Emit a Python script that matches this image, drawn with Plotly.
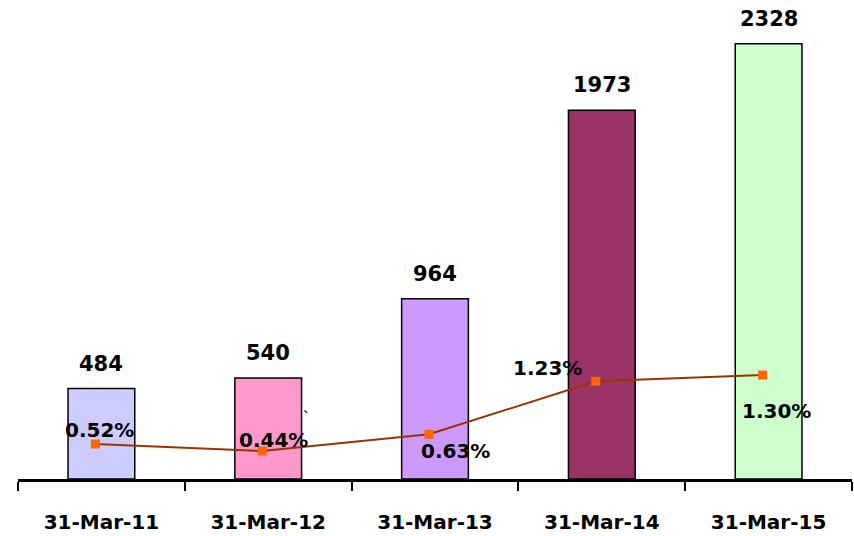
import plotly.graph_objects as go

categories = ["31-Mar-11", "31-Mar-12", "31-Mar-13", "31-Mar-14", "31-Mar-15"]
amounts = [484, 540, 964, 1973, 2328]
ratios = [0.52, 0.44, 0.63, 1.23, 1.30]
ratio_labels = ["0.52%", "0.44%", "0.63%", "1.23%", "1.30%"]
bar_colors = ["#CCCCFF", "#FF99CC", "#CC99FF", "#993366", "#CCFFCC"]

# label offsets (pixels) for the percentage labels
pct_dx = [4, 11, 26, -48, 14]
pct_dy = [14, 11, -17, 13, -36]

FONT = "DejaVu Sans"

fig = go.Figure()
fig.add_trace(go.Bar(
    x=categories, y=amounts, width=0.4,
    marker=dict(color=bar_colors, line=dict(color="black", width=1.5)),
    xaxis="x", yaxis="y", showlegend=False, hoverinfo="skip",
))
fig.add_trace(go.Scatter(
    x=categories, y=ratios, mode="lines+markers",
    line=dict(color="#993300", width=2),
    marker=dict(symbol="square", size=9, color="#FF6600"),
    xaxis="x2", yaxis="y2", showlegend=False, hoverinfo="skip",
))

annotations = []
for c, v in zip(categories, amounts):
    annotations.append(dict(
        x=c, y=v, xref="x", yref="y", text=f"<b>{v}</b>", showarrow=False,
        yanchor="middle", yshift=25,
        font=dict(family=FONT, size=21, color="black"),
    ))
for c, v, t, dx, dy in zip(categories, ratios, ratio_labels, pct_dx, pct_dy):
    annotations.append(dict(
        x=c, y=v, xref="x2", yref="y2", text=f"<b>{t}</b>", showarrow=False,
        xshift=dx, yshift=dy, yanchor="middle",
        font=dict(family=FONT, size=20, color="black"),
    ))
# stray backtick mark seen in the original
annotations.append(dict(
    x=categories[1], y=ratios[1], xref="x2", yref="y2", text="<b>`</b>",
    showarrow=False, xshift=44, yshift=34,
    font=dict(family=FONT, size=14, color="black"),
))

shift = 0.036
fig.update_layout(
    width=854, height=536,
    margin=dict(l=18, r=2, t=10, b=57),
    paper_bgcolor="white", plot_bgcolor="white",
    xaxis=dict(
        type="category", range=[-0.5, 4.5],
        showline=True, linecolor="black", linewidth=2.5,
        ticks="outside", tickson="boundaries", ticklen=9, tickwidth=1.5,
        tickcolor="black", showgrid=False, zeroline=False,
        tickfont=dict(family=FONT, size=20, color="black"),
        ticklabelstandoff=23,
        tickvals=categories, ticktext=[f"<b>{c}</b>" for c in categories],
    ),
    xaxis2=dict(
        type="category", overlaying="x", range=[-0.5 + shift, 4.5 + shift],
        visible=False,
    ),
    yaxis=dict(range=[0, 2509], visible=False, showgrid=False, zeroline=False),
    yaxis2=dict(range=[0.1244, 5.43], overlaying="y", visible=False,
                showgrid=False, zeroline=False),
    annotations=annotations,
)

fig.write_html("out.html")
